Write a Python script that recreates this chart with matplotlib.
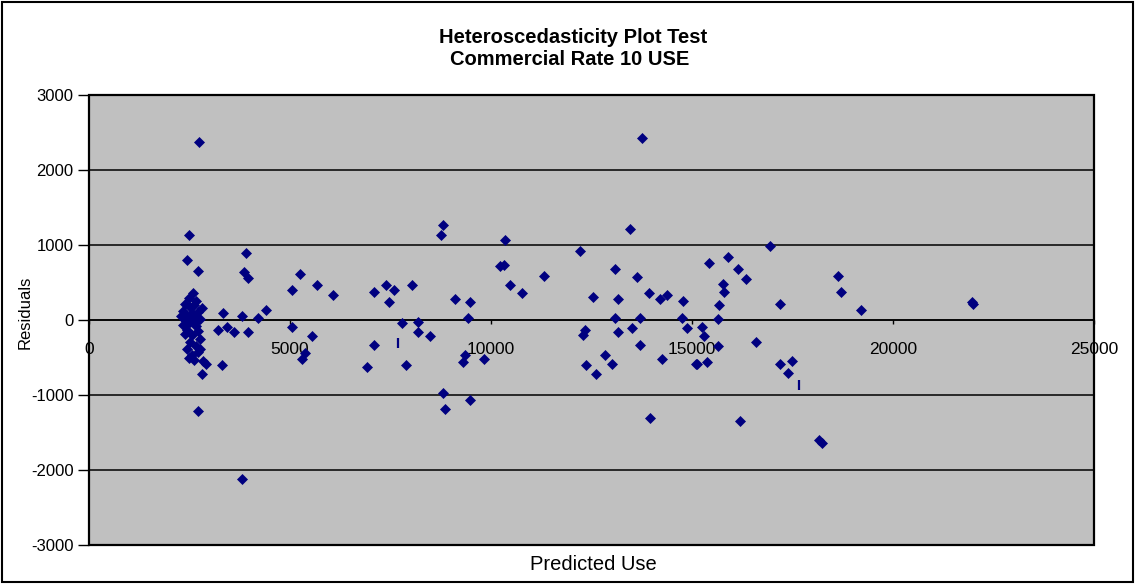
import matplotlib
matplotlib.use('Agg')
import matplotlib.pyplot as plt
from matplotlib.patches import Rectangle

plt.rcParams['font.family'] = ['Liberation Sans', 'DejaVu Sans']

# predicted use (x) and residuals (y)
pred = [2744, 2495, 2445, 2704, 3898, 3864, 3948, 5249, 5041, 5680,
        6078, 3326, 3798, 4213, 4403, 3202, 3425, 3607, 3948, 5050,
        5547, 5290, 5373, 3301, 2803, 2704, 3798,
        # dense cluster near 2500
        2580, 2480, 2650, 2400, 2800, 2520, 2350, 2700, 2450, 2600,
        2380, 2750, 2500, 2350, 2650, 2450, 2700, 2550, 2400, 2750,
        2500, 2650, 2450, 2700, 2550, 2600, 2843, 2480, 2900, 2380,
        2600, 2550, 2650, 2300, 2750,
        # 7000 - 10000
        7097, 7388, 7587, 7470, 8028, 7090, 6924, 7886, 7779, 8177,
        8177, 8483, 8799, 8765, 9114, 9478, 9437, 9362, 9312, 9826,
        8815, 8865, 9478, 10224,
        # 10000 - 15000
        13764, 10348, 10323, 10465, 10771, 11318, 12214, 13458, 13085, 13640,
        12545, 13152, 13938, 14204, 14386, 14769, 14744, 14883, 13093, 13707,
        13500, 13152, 12281, 12338, 13707, 14246, 12363, 12612, 12844, 13018,
        13955, 15108,
        # 15000 and up
        15430, 15896, 16145, 16351, 16941, 15779, 15797, 15679, 15647, 15256,
        15299, 15647, 15132, 15366, 17189, 16600, 17189, 17480, 17388, 16194,
        18168, 18230, 18624, 18714, 19212, 21973, 22000]
resid = [2379, 1132, 798, 652, 892, 634, 563, 617, 398, 465,
         327, 96, 51, 29, 127, -127, -91, -154, -154, -91,
         -207, -518, -438, -598, -714, -1212, -2120,
         363, 300, 250, 207, 163, 170, 120, 110, 60, 40,
         0, 10, -30, -60, -80, -130, -150, -200, -180, -250,
         -290, -340, -380, -420, -460, -527, -550, -500, -580, -80,
         200, 100, -20, 50, -380,
         380, 470, 398, 238, 470, -327, -630, -598, -38, -29,
         -158, -207, 1262, 1132, 283, 243, 33, -470, -554, -518,
         -972, -1186, -1071, 718,
         2433, 1061, 732, 470, 354, 585, 915, 1218, 684, 567,
         310, 283, 358, 283, 331, 256, 33, -113, 33, 33,
         -109, -158, -203, -127, -336, -518, -598, -714, -465, -581,
         -1306, -581,
         754, 838, 684, 541, 985, 474, 376, 194, 7, -91,
         -207, -340, -581, -554, 220, -296, -581, -550, -701, -1346,
         -1605, -1640, 585, 380, 127, 238, 210]

# two odd points drawn as short vertical dashes
dash_pred = [7680, 17670]
dash_resid = [-300, -861]

xticks = [0, 5000, 10000, 15000, 20000, 25000]
yticks = [-3000, -2000, -1000, 0, 1000, 2000, 3000]

fig = plt.figure(figsize=(11.35, 5.84), dpi=100)
ax = fig.add_axes([89/1135, 1 - 545/584, 1005/1135, 450/584])
ax.set_facecolor('#C0C0C0')

ax.plot(pred, resid, 'D', color='#000080', markersize=5, mew=0.5, zorder=3)
ax.plot(dash_pred, dash_resid, '|', color='#000080', markersize=7, mew=1.6, zorder=3)

ax.set_xlim(0, 25000)
ax.set_ylim(-3000, 3000)
ax.set_xticks(xticks)
ax.set_yticks(yticks)
ax.set_xticklabels([str(v) for v in xticks])
ax.set_yticklabels([str(v) for v in yticks])

for y in yticks:
    ax.axhline(y, color='black', lw=1.1, zorder=1)

ax.spines['bottom'].set_position(('data', 0))
ax.spines['bottom'].set_linewidth(1.1)
ax.spines['left'].set_linewidth(1.1)
ax.spines['top'].set_visible(False)
ax.spines['right'].set_visible(False)
ax.add_patch(Rectangle((0, 0), 1, 1, transform=ax.transAxes, fill=False,
                       edgecolor='black', lw=1.6, clip_on=False, zorder=4))

ax.tick_params(axis='x', direction='out', length=3, width=1, pad=13, labelsize=12.5)
ax.tick_params(axis='y', direction='out', length=8, width=1, pad=3, labelsize=12)

fig.text(593/1135, 1 - 570.5/584, 'Predicted Use', ha='center', va='baseline', fontsize=14.5)
fig.text(25/1135, 1 - 312/584, 'Residuals', ha='center', va='center',
         rotation=90, fontsize=12)
fig.text(573/1135, 1 - 42.7/584, 'Heteroscedasticity Plot Test', ha='center',
         va='baseline', fontsize=14.5, fontweight='bold')
fig.text(570/1135, 1 - 65/584, 'Commercial Rate 10 USE', ha='center',
         va='baseline', fontsize=14.5, fontweight='bold')

fig.patches.append(Rectangle((0.002, 0.003), 0.996, 0.994, transform=fig.transFigure,
                             fill=False, edgecolor='black', lw=1.5))

fig.savefig('out.png', dpi=100)
